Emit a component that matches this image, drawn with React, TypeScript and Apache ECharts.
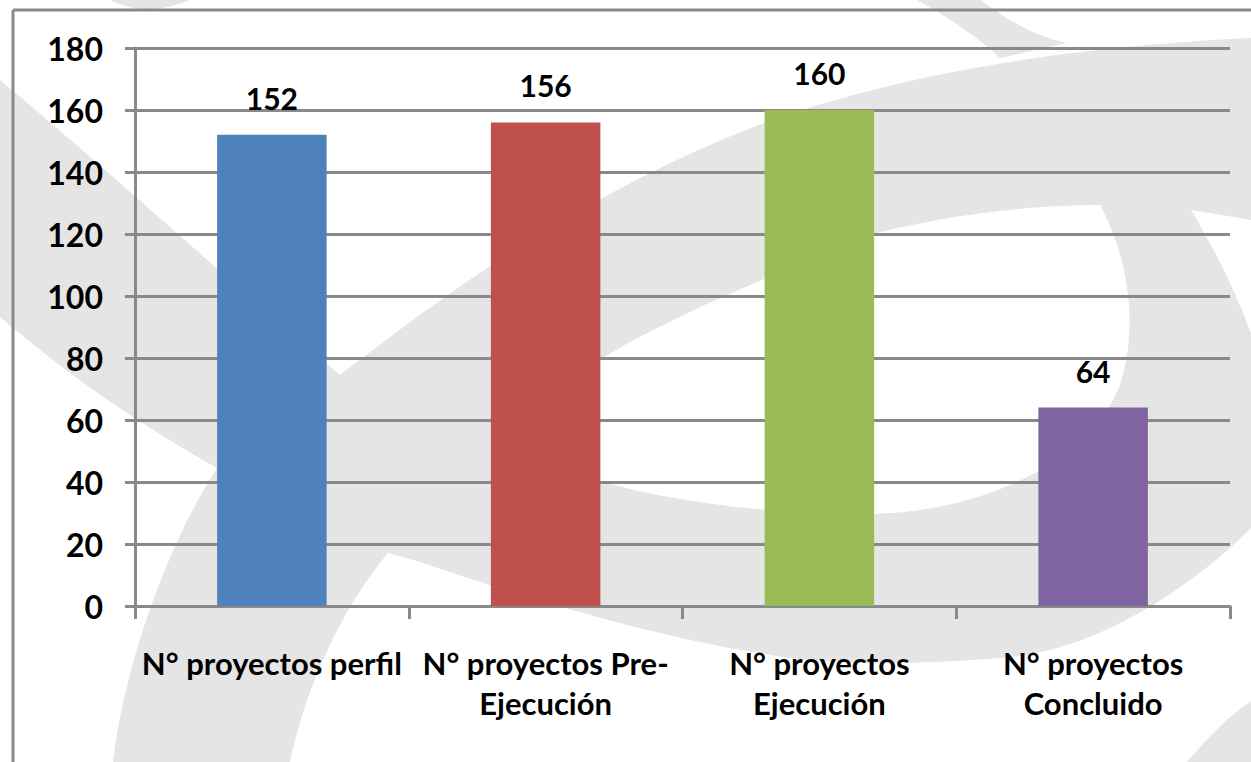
import React, { useEffect, useRef } from "react";
import * as echarts from "echarts";

const categories = [
  "N° proyectos perfil",
  "N° proyectos Pre-Ejecución",
  "N° proyectos Ejecución",
  "N° proyectos Concluido",
];
const categoryLabels = [
  "N° proyectos perfil",
  "N° proyectos Pre-\nEjecución",
  "N° proyectos\nEjecución",
  "N° proyectos\nConcluido",
];
const values = [152, 156, 160, 64];
const barColors = ["#4F81BD", "#C0504D", "#9BBB59", "#8064A2"];
const yTicks = { min: 0, max: 180, interval: 20 };

const RING_OUTER =
  "M 340 375 C 400 330 560 200 764 123 C 850 92 1000 50 1251 38 L 1300 38 L 1300 500 L 1251 528 " +
  "C 1200 580 1100 652 1001 658 C 920 664 860 664 834 662 C 720 655 560 610 417 561 L 388 553 " +
  "C 360 500 330 430 340 375 Z";
const RING_INNER =
  "M 600 481 C 555 450 560 390 599 360 C 680 310 780 275 850 240 C 950 212 1040 205 1100 205 " +
  "C 1125 250 1140 320 1121 381 C 1100 450 1000 510 874 514 C 800 516 680 505 600 481 Z";
const RIGHT_WEDGE = "M 1191 210 L 1251 220 L 1251 333 C 1235 290 1215 250 1191 210 Z";
const LEFT_BAND =
  "M 0 80 C 120 180 250 300 340 375 L 388 553 C 340 610 305 690 290 762 L 290 780 L 113 780 L 113 762 " +
  "C 125 660 170 540 217 468 C 150 430 80 385 0 317 Z";
const TOP_BAND = "M 917 0 L 981 0 C 1000 15 1030 35 1067 43 L 1000 58 C 975 35 945 15 917 0 Z";
const TOP_LEFT = "M 110 0 L 190 0 C 175 6 160 9 145 10 C 130 8 118 4 110 0 Z";
const BOTTOM_RIGHT = "M 1187 762 C 1210 735 1230 715 1251 701 L 1251 780 L 1187 780 Z";

let registered = false;
function registerShapes() {
  if (registered) return;
  registered = true;
  echarts.graphic.registerShape("wmRingOuter", echarts.graphic.extendPath(RING_OUTER, {}));
  echarts.graphic.registerShape("wmRingInner", echarts.graphic.extendPath(RING_INNER, {}));
  echarts.graphic.registerShape("wmRightWedge", echarts.graphic.extendPath(RIGHT_WEDGE, {}));
  echarts.graphic.registerShape("wmLeftBand", echarts.graphic.extendPath(LEFT_BAND, {}));
  echarts.graphic.registerShape("wmTopBand", echarts.graphic.extendPath(TOP_BAND, {}));
  echarts.graphic.registerShape("wmTopLeft", echarts.graphic.extendPath(TOP_LEFT, {}));
  echarts.graphic.registerShape("wmBottomRight", echarts.graphic.extendPath(BOTTOM_RIGHT, {}));
}

const WM = "#e5e5e5";
const AX = "#898989";
const FONT = "Lato";

export default function App() {
  const ref = useRef<HTMLDivElement>(null);
  useEffect(() => {
    if (!ref.current) return;
    registerShapes();
    const chart = echarts.init(ref.current, undefined, { renderer: "svg" });
    const wm = (type: string, fill: string, z: number) => ({
      type,
      x: 0,
      y: 0,
      z,
      silent: true,
      style: { fill },
    });
    chart.setOption({
      animation: false,
      backgroundColor: "#ffffff",
      graphic: {
        elements: [
          wm("wmRingOuter", WM, -20),
          wm("wmRingInner", "#ffffff", -19),
          wm("wmRightWedge", "#ffffff", -19),
          wm("wmLeftBand", WM, -18),
          wm("wmTopBand", WM, -18),
          wm("wmTopLeft", WM, -18),
          wm("wmBottomRight", WM, -18),
          {
            type: "line",
            z: -5,
            silent: true,
            shape: { x1: 13, y1: 10, x2: 1251, y2: 10 },
            style: { stroke: AX, lineWidth: 3 },
          },
          {
            type: "line",
            z: -5,
            silent: true,
            shape: { x1: 13, y1: 10, x2: 13, y2: 762 },
            style: { stroke: AX, lineWidth: 3 },
          },
        ],
      },
      grid: { left: 135, right: 21, top: 48, bottom: 156, containLabel: false },
      xAxis: {
        type: "category",
        data: categories,
        boundaryGap: true,
        axisLine: { show: true, lineStyle: { color: AX, width: 3 } },
        axisTick: { show: true, interval: 0, length: 13, lineStyle: { color: AX, width: 3 } },
        axisLabel: {
          interval: 0,
          margin: 37,
          color: "#000",
          fontFamily: FONT,
          fontWeight: "bold",
          fontSize: 31,
          lineHeight: 40,
          formatter: (_v: string, i: number) => categoryLabels[i],
        },
        splitLine: { show: false },
      },
      yAxis: {
        type: "value",
        min: yTicks.min,
        max: yTicks.max,
        interval: yTicks.interval,
        axisLine: { show: true, lineStyle: { color: AX, width: 3 } },
        axisTick: { show: true, length: 10, lineStyle: { color: AX, width: 3 } },
        axisLabel: {
          margin: 32,
          color: "#000",
          fontFamily: FONT,
          fontWeight: "bold",
          fontSize: 32,
        },
        splitLine: { show: true, lineStyle: { color: AX, width: 3 } },
      },
      series: [
        {
          type: "bar",
          barWidth: "40%",
          data: values.map((v, i) => ({ value: v, itemStyle: { color: barColors[i] } })),
          label: {
            show: true,
            position: "top",
            distance: 22,
            color: "#000",
            fontFamily: FONT,
            fontWeight: "bold",
            fontSize: 30,
            lineHeight: 30,
          },
        },
      ],
    });
    return () => chart.dispose();
  }, []);
  return (
    <div
      ref={ref}
      style={{ position: "fixed", left: 0, top: 0, width: 1251, height: 762 }}
    />
  );
}
